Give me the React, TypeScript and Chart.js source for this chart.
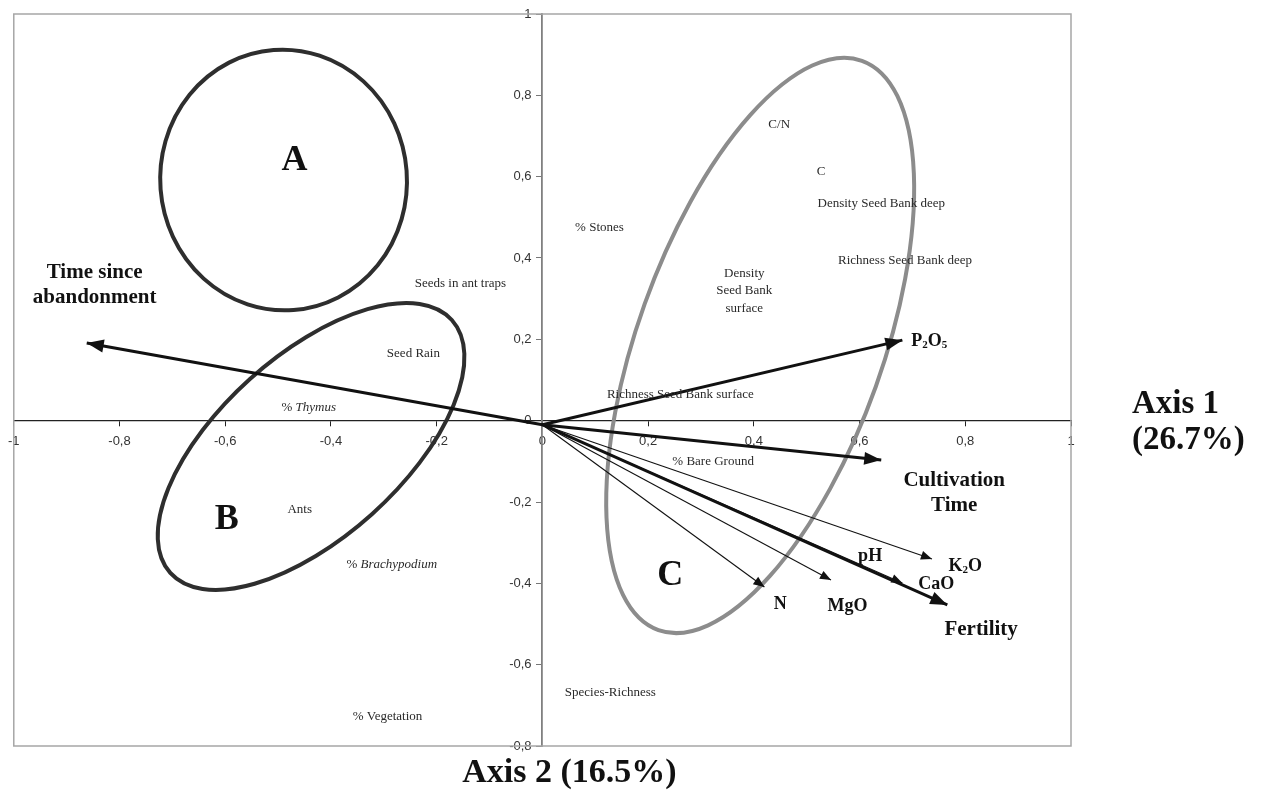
import { useEffect, useRef } from "react";
import { Chart, registerables } from "chart.js";

Chart.register(...registerables);

// ---- axes ----
const xMin = -1;
const xMax = 1;
const yMin = -0.8;
const yMax = 1;
const tickStep = 0.2;

// ---- arrows (loadings) ----
const arrowOriginX = 0;
const arrowOriginY = -0.01;
const arrowNames = ["Time since abandonment", "P2O5", "Cultivation Time", "Fertility", "CaO", "K2O", "MgO", "N"];
const arrowX = [-0.862, 0.681, 0.641, 0.766, 0.681, 0.737, 0.546, 0.42];
const arrowY = [0.191, 0.198, -0.097, -0.453, -0.399, -0.34, -0.392, -0.409];
const arrowThick = [true, true, true, true, false, false, false, false];

// ---- arrow labels ----
const arrowLabels = ["Time since\nabandonment", "P_2O_5", "Cultivation\nTime", "Fertility", "CaO", "K_2O", "MgO", "N", "pH"];
const arrowLabelX = [-0.847, 0.732, 0.779, 0.83, 0.745, 0.8, 0.577, 0.45, 0.62];
const arrowLabelY = [0.337, 0.198, -0.175, -0.51, -0.4, -0.355, -0.453, -0.448, -0.33];
const arrowLabelLarge = [true, false, true, true, false, false, false, false, false];

// ---- variable labels (no arrows) ----
const varLabels = [
  "Seeds in ant traps",
  "Seed Rain",
  "% *Thymus*",
  "Ants",
  "% *Brachypodium*",
  "% Vegetation",
  "Species-Richness",
  "% Stones",
  "C/N",
  "C",
  "Density Seed Bank deep",
  "Richness Seed Bank deep",
  "Density\nSeed Bank\nsurface",
  "Richness Seed Bank surface",
  "% Bare Ground",
];
const varX = [-0.155, -0.244, -0.442, -0.459, -0.285, -0.293, 0.1285, 0.108, 0.448, 0.527, 0.641, 0.686, 0.382, 0.261, 0.323];
const varY = [0.339, 0.166, 0.034, -0.217, -0.352, -0.726, -0.667, 0.476, 0.729, 0.614, 0.535, 0.395, 0.321, 0.066, -0.099];

// ---- groups ----
const groupNames = ["A", "B", "C"];
const groupX = [-0.469, -0.597, 0.242];
const groupY = [0.646, -0.237, -0.374];

// ---- group ellipses ----
const ellipseCenterX = [-0.4896, -0.4376, 0.412];
const ellipseCenterY = [0.5918, -0.0634, 0.185];
const ellipseMajorEndX = [-0.5085, -0.1713, 0.6045];
const ellipseMajorEndY = [0.9115, 0.2476, 0.885];
const ellipseMinorRatio = [0.946, 0.481, 0.406];
const ellipseColors = ["#2e2e2e", "#2e2e2e", "#8c8c8c"];

const axisTitle1 = ["Axis 1", "(26.7%)"];
const axisTitle2 = "Axis 2 (16.5%)";

const SERIF = '"Liberation Serif", "Times New Roman", serif';

type Seg = { t: string; italic: boolean; sub: boolean };

function parseLine(line: string): Seg[] {
  const segs: Seg[] = [];
  let italic = false;
  let buf = "";
  for (let k = 0; k < line.length; k++) {
    const ch = line[k];
    if (ch === "*") {
      if (buf) segs.push({ t: buf, italic, sub: false });
      buf = "";
      italic = !italic;
      continue;
    }
    if (ch === "_") {
      if (buf) segs.push({ t: buf, italic, sub: false });
      buf = "";
      segs.push({ t: line[k + 1], italic, sub: true });
      k++;
      continue;
    }
    buf += ch;
  }
  if (buf) segs.push({ t: buf, italic, sub: false });
  return segs;
}

function drawRich(
  ctx: CanvasRenderingContext2D,
  text: string,
  cx: number,
  cy: number,
  size: number,
  bold: boolean,
  lineH: number,
  color: string
) {
  const lines = text.split("\n");
  const n = lines.length;
  ctx.save();
  ctx.fillStyle = color;
  ctx.textBaseline = "alphabetic";
  ctx.textAlign = "left";
  lines.forEach((line, i) => {
    const y = cy + (i - (n - 1) / 2) * lineH + size * 0.33;
    const segs = parseLine(line);
    const fontOf = (s: Seg) =>
      `${s.italic ? "italic " : ""}${bold ? "bold " : ""}${s.sub ? Math.round(size * 0.6) : size}px ${SERIF}`;
    let total = 0;
    const widths = segs.map((s) => {
      ctx.font = fontOf(s);
      const w = ctx.measureText(s.t).width;
      total += w;
      return w;
    });
    let x = cx - total / 2;
    segs.forEach((s, j) => {
      ctx.font = fontOf(s);
      ctx.fillText(s.t, x, s.sub ? y + size * 0.1 : y);
      x += widths[j];
    });
  });
  ctx.restore();
}

const overlayPlugin = {
  id: "biplotOverlay",
  beforeDatasetsDraw(chart: any) {
    const { ctx, chartArea, scales } = chart;
    const xs = scales.x;
    const ys = scales.y;
    ctx.save();
    // frame
    ctx.strokeStyle = "#a6a6a6";
    ctx.lineWidth = 1.5;
    ctx.strokeRect(chartArea.left, chartArea.top, chartArea.right - chartArea.left, chartArea.bottom - chartArea.top);
    // ellipses
    for (let i = 0; i < ellipseCenterX.length; i++) {
      const cx = xs.getPixelForValue(ellipseCenterX[i]);
      const cy = ys.getPixelForValue(ellipseCenterY[i]);
      const mx = xs.getPixelForValue(ellipseMajorEndX[i]);
      const my = ys.getPixelForValue(ellipseMajorEndY[i]);
      const a = Math.hypot(mx - cx, my - cy);
      const rot = Math.atan2(my - cy, mx - cx);
      const b = a * ellipseMinorRatio[i];
      ctx.beginPath();
      ctx.ellipse(cx, cy, a, b, rot, 0, Math.PI * 2);
      ctx.strokeStyle = ellipseColors[i];
      ctx.lineWidth = 4;
      ctx.stroke();
    }
    ctx.restore();
  },
  afterDatasetsDraw(chart: any) {
    const { ctx, chartArea, scales } = chart;
    const xs = scales.x;
    const ys = scales.y;
    ctx.save();
    // arrowheads
    chart.data.datasets.forEach((ds: any, i: number) => {
      const meta = chart.getDatasetMeta(i);
      const p0 = meta.data[0];
      const p1 = meta.data[1];
      if (!p0 || !p1) return;
      const ang = Math.atan2(p1.y - p0.y, p1.x - p0.x);
      const thick = arrowThick[i];
      const L = thick ? 17 : 11;
      const W = thick ? 13 : 9;
      const bx = p1.x - L * Math.cos(ang);
      const by = p1.y - L * Math.sin(ang);
      const px = -Math.sin(ang) * (W / 2);
      const py = Math.cos(ang) * (W / 2);
      ctx.beginPath();
      ctx.moveTo(p1.x, p1.y);
      ctx.lineTo(bx + px, by + py);
      ctx.lineTo(bx - px, by - py);
      ctx.closePath();
      ctx.fillStyle = "#111";
      ctx.fill();
    });
    // variable labels
    varLabels.forEach((t, i) => {
      drawRich(ctx, t, xs.getPixelForValue(varX[i]), ys.getPixelForValue(varY[i]), 13, false, 17.5, "#2a2a2a");
    });
    // arrow labels
    arrowLabels.forEach((t, i) => {
      const large = arrowLabelLarge[i];
      drawRich(
        ctx,
        t,
        xs.getPixelForValue(arrowLabelX[i]),
        ys.getPixelForValue(arrowLabelY[i]),
        large ? 21 : 18,
        true,
        large ? 25 : 20,
        "#111"
      );
    });
    // group letters
    groupNames.forEach((t, i) => {
      drawRich(ctx, t, xs.getPixelForValue(groupX[i]), ys.getPixelForValue(groupY[i]), 36, true, 36, "#111");
    });
    // axis titles
    const x0 = xs.getPixelForValue(0);
    const y0 = ys.getPixelForValue(0);
    ctx.fillStyle = "#111";
    ctx.font = `bold 33px ${SERIF}`;
    ctx.textAlign = "left";
    ctx.textBaseline = "middle";
    ctx.fillText(axisTitle1[0], chartArea.right + 61, y0 - 16);
    ctx.fillText(axisTitle1[1], chartArea.right + 61, y0 + 20);
    ctx.textAlign = "center";
    ctx.font = `bold 34px ${SERIF}`;
    ctx.fillText(axisTitle2, x0 + 27, chartArea.bottom + 27);
    ctx.restore();
  },
};

function fmtTick(v: number | string) {
  const n = Math.round(Number(v) * 10) / 10;
  return String(n === 0 ? 0 : n).replace(".", ",");
}

export default function App() {
  const ref = useRef<HTMLCanvasElement>(null);
  useEffect(() => {
    const canvas = ref.current;
    if (!canvas) return;
    const datasets = arrowNames.map((name, i) => ({
      label: name,
      data: [
        { x: arrowOriginX, y: arrowOriginY },
        { x: arrowX[i], y: arrowY[i] },
      ],
      showLine: true,
      borderColor: "#111",
      backgroundColor: "#111",
      borderWidth: arrowThick[i] ? 3 : 1.1,
      pointRadius: 0,
      pointHoverRadius: 0,
    }));
    const chart = new Chart(canvas, {
      type: "scatter",
      data: { datasets },
      options: {
        animation: false,
        responsive: false,
        devicePixelRatio: 1,
        events: [],
        layout: { padding: { left: 13, top: 14, right: 190, bottom: 50 } },
        plugins: { legend: { display: false }, tooltip: { enabled: false } },
        scales: {
          x: {
            type: "linear",
            position: { y: 0 } as any,
            min: xMin,
            max: xMax,
            ticks: {
              stepSize: tickStep,
              callback: (v: any) => fmtTick(v),
              color: "#333",
              font: { family: '"Liberation Sans", Arial, sans-serif', size: 13 },
              padding: 8,
              maxRotation: 0,
              autoSkip: false,
            },
            grid: { display: true, drawOnChartArea: false, drawTicks: true, tickLength: 5, color: "#222", lineWidth: 1 },
            border: { display: true, color: "#222", width: 1.3 },
          },
          y: {
            type: "linear",
            position: { x: 0 } as any,
            min: yMin,
            max: yMax,
            ticks: {
              stepSize: tickStep,
              // trailing spaces keep the labels clear of the tick marks
              callback: (v: any) => fmtTick(v) + "   ",
              color: "#333",
              font: { family: '"Liberation Sans", Arial, sans-serif', size: 13 },
              padding: 3,
              autoSkip: false,
            },
            grid: { display: true, drawOnChartArea: false, drawTicks: true, tickLength: 5, color: "#777", lineWidth: 1 },
            border: { display: true, color: "#808080", width: 1.8 },
          },
        },
      },
      plugins: [overlayPlugin],
    });
    return () => chart.destroy();
  }, []);
  return (
    <div style={{ position: "fixed", left: 0, top: 0, width: 1261, height: 796, background: "#fff" }}>
      <canvas ref={ref} width={1261} height={796} style={{ width: 1261, height: 796, display: "block" }} />
    </div>
  );
}
